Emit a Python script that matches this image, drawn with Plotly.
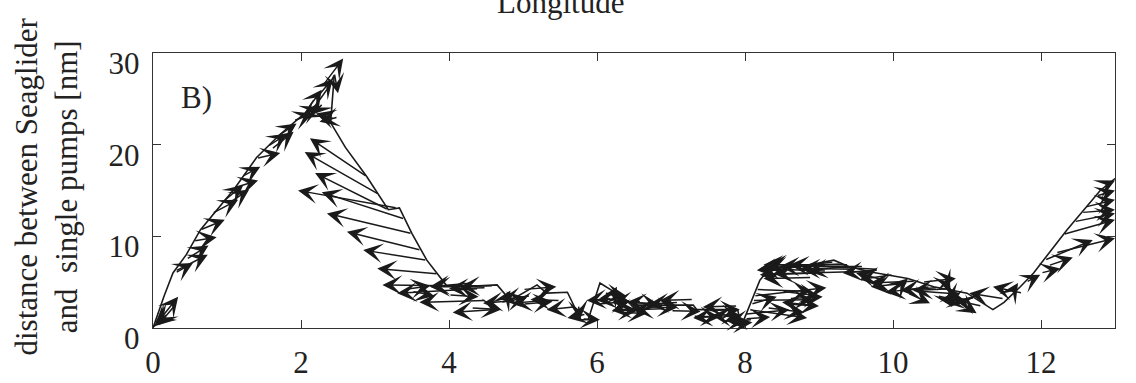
import plotly.graph_objects as go

# Track of distance between the Seaglider and single pumps along longitude
path_x = [0.0, 0.05, 0.15, 0.27, 0.45, 0.64, 0.86, 1.1, 1.4, 1.7, 1.99, 2.2, 2.35, 2.45,
          2.4, 2.6, 2.89, 3.18, 3.33, 3.5, 3.7, 3.97, 4.4, 4.65, 4.83, 5.19, 5.32, 5.6,
          5.78, 5.88, 6.04, 6.2, 6.5, 7.3, 7.35, 7.9, 7.95, 8.07, 8.2, 8.3, 8.8, 9.2,
          9.4, 9.7, 10.2, 10.55, 11.0, 11.35, 11.5, 11.72, 11.9, 12.35, 12.8, 13.0]
path_y = [0.0, 1.2, 3.5, 6.0, 8.0, 10.7, 12.9, 15.2, 18.6, 21.0, 23.0, 24.3, 26.0, 27.6,
          22.4, 19.7, 16.5, 12.9, 13.1, 10.3, 7.4, 4.6, 4.6, 4.7, 3.0, 4.7, 3.8, 3.9,
          0.9, 0.9, 4.9, 4.1, 2.5, 2.5, 2.0, 2.0, 0.2, 2.5, 5.2, 6.2, 6.8, 7.4,
          6.7, 6.1, 5.4, 4.5, 3.8, 2.0, 2.8, 4.5, 6.0, 10.7, 15.0, 16.3]

# Vector field: tail positions (arrow_x, arrow_y) and components (arrow_u, arrow_v)
arrow_x = [
    # rising limb
    0.30, 0.20, 0.00, 0.30, 0.30, 0.55, 0.64, 0.80, 0.95, 1.10, 1.20, 1.40, 1.55, 1.70,
    1.90, 2.00, 2.10, 2.20, 2.30, 2.45, 2.45, 2.50,
    0.10, 0.45, 1.00, 1.60, 2.15, 2.30,
    # falling limb
    2.89, 3.05, 3.18, 3.30, 3.40, 3.50, 3.62, 3.70, 3.85, 3.97, 4.40, 4.50, 4.60, 3.40,
    4.30, 3.50,
    # low section between 4 and 8
    4.90, 4.75, 4.30, 5.30, 4.70, 5.70, 5.85, 5.75, 5.80, 6.20, 6.20, 6.60, 6.90, 6.30,
    7.30, 6.70, 7.70, 7.90, 7.30, 7.50, 7.70, 8.10, 4.60, 5.00, 6.00, 6.90,
    4.20, 4.50, 4.00, 5.10, 5.00, 5.50, 6.10, 6.40, 6.50, 6.60, 7.00, 7.10, 7.60, 7.85,
    7.80, 6.20,
    # section between 8 and 9.5
    8.12, 8.10, 8.08, 8.05, 8.00, 8.00, 8.15, 9.20, 9.40, 9.60, 9.80, 9.00, 8.90, 9.50,
    9.10, 8.60,
    9.30, 9.10, 9.70, 8.50, 8.60, 8.30, 8.90,
    # section between 9.5 and 11.5
    9.80, 9.90, 10.30, 10.50, 10.05, 10.80, 10.20, 10.70, 10.70, 11.50, 10.90, 10.60,
    11.20, 9.40, 10.00, 10.40,
    10.20, 10.60, 10.90, 11.10, 10.40,
    # last climb
    11.75, 11.60, 11.80, 12.00, 12.10, 12.05, 12.20, 12.30, 12.45, 12.55, 12.60, 12.75,
    12.90,
]
arrow_y = [
    2.5, 1.5, 0.0, 6.0, 6.2, 9.5, 10.7, 12.5, 13.8, 15.3, 16.5, 18.5, 19.8, 21.0,
    22.6, 23.2, 24.0, 25.0, 26.5, 27.8, 22.8, 23.0,
    0.8, 7.5, 13.5, 19.5, 23.6, 24.5,
    16.5, 14.6, 12.9, 13.1, 11.9, 10.3, 8.5, 7.4, 5.9, 4.6, 4.3, 3.0, 2.0, 4.2,
    4.9, 4.0,
    3.0, 3.0, 2.2, 3.0, 2.8, 2.3, 1.5, 2.5, 1.0, 3.2, 3.5, 2.9, 2.1, 1.7,
    3.1, 2.3, 1.3, 2.4, 1.3, 1.9, 0.8, 0.9, 4.6, 4.2, 2.6, 2.6,
    4.5, 4.4, 3.6, 3.5, 2.6, 3.0, 3.8, 3.3, 2.8, 2.2, 1.9, 2.8, 1.5, 1.2,
    0.5, 1.9,
    3.5, 3.0, 2.6, 2.0, 1.5, 1.0, 4.2, 7.2, 6.9, 6.7, 6.4, 6.0, 5.5, 6.4,
    6.2, 2.6,
    7.0, 6.8, 6.2, 4.0, 3.2, 2.2, 2.5,
    6.3, 5.2, 5.1, 4.5, 4.3, 4.3, 3.8, 5.3, 3.6, 3.2, 2.8, 3.5,
    2.4, 6.8, 5.8, 5.0,
    4.9, 4.4, 3.9, 3.3, 4.0,
    3.8, 3.8, 5.0, 6.0, 6.8, 7.4, 8.2, 10.2, 11.6, 12.6, 13.2, 14.4,
    15.7,
]
arrow_u = [
    -0.23, -0.17, 0.34, 0.24, 0.44, 0.31, 0.33, 0.35, 0.27, 0.32, 0.25, 0.32, 0.26, 0.24,
    0.26, 0.26, 0.18, 0.23, 0.27, 0.05, -0.25, -0.25,
    -0.08, 0.30, 0.30, 0.30, -0.15, -0.15,
    -0.77, -1.00, -0.99, -1.34, -1.12, -1.15, -1.00, -0.86, -0.82, -0.87, -1.10, -0.90,
    -0.55, 0.35, -0.56, 0.30,
    -0.44, 0.08, 0.40, -0.44, 0.35, -0.38, -0.25, 0.02, 0.24, -0.34, 0.07, -0.40, -0.40,
    0.38, -0.45, 0.38, -0.40, -0.47, 0.36, 0.43, 0.32, -0.34, -0.45, 0.45, 0.45, -0.50,
    -0.45, -0.50, 0.40, -0.40, 0.40, -0.40, 0.30, -0.40, 0.35, -0.40, 0.40, -0.40, 0.35,
    -0.30, 0.30, 0.35,
    0.98, 0.82, 0.35, 0.79, 0.60, 0.34, 0.75, -1.04, -1.10, -1.13, -1.20, -0.80, -0.65,
    -0.75, -0.90, 0.40,
    -1.00, -0.85, -1.30, 0.50, 0.45, 0.50, -0.40,
    -0.48, -0.40, -0.61, -0.60, 0.15, -0.53, 0.30, 0.07, 0.10, -0.47, 0.23, 0.40,
    -0.35, -0.55, -0.45, 0.45,
    -0.50, -0.50, -0.20, -0.40, 0.50,
    -0.40, 0.09, 0.19, 0.26, 0.33, 0.65, 0.80, 0.70, 0.55, 0.45, 0.40, 0.25,
    0.10,
]
arrow_v = [
    -2.2, -0.9, 3.4, 1.1, 1.8, 0.4, 1.1, 1.5, 1.8, 0.8, 1.1, 0.6, 1.4, 1.3,
    0.8, 0.9, 2.0, 2.2, 2.9, -2.2, 0.6, -0.5,
    -0.6, 1.5, 1.6, 1.9, -0.7, -1.2,
    4.2, 4.6, 4.0, 1.9, 2.9, 2.2, 2.0, 1.1, 0.6, 0.1, -0.5, -0.2,
    -0.3, 0.4, -0.4, -0.5,
    -0.3, 1.1, -0.2, -0.3, 0.5, -0.3, -0.4, -1.6, -0.1, -0.2, 1.0, -0.1, -0.1, -0.1,
    -0.1, -0.1, -0.2, -0.1, -0.1, 0.1, -0.1, -0.2, -0.1, 0.3, 0.3, 0.2,
    0.0, -0.1, -0.2, -0.4, 0.3, 0.1, -0.3, -0.3, -0.3, -0.3, -0.1, -0.2, -0.2, 0.2,
    0.1, 0.0,
    0.9, 0.1, 0.8, -0.9, 0.5, 0.2, -0.2, -0.9, 0.0, 0.0, 0.5, -0.2, -0.1, 0.1,
    0.3, -0.2,
    -0.4, 0.1, -0.3, -0.5, 0.2, -0.5, 0.3,
    -0.3, 0.8, -0.2, -0.6, 1.1, -0.2, -1.1, -1.2, -1.3, 0.6, -1.2, -0.7,
    0.6, -0.6, -0.5, 0.4,
    -0.4, -0.3, -0.9, -0.5, -0.3,
    0.7, 1.1, 0.8, 0.5, 0.9, 2.2, 1.6, 1.6, 0.9, 0.3, 0.8, 0.6,
    0.4,
]
assert len(arrow_x) == len(arrow_y) == len(arrow_u) == len(arrow_v)

x_ticks = [0, 2, 4, 6, 8, 10, 12]
y_ticks = [0, 10, 20, 30]

INK = "#1a1a1a"
FONT = "Liberation Serif, Times New Roman, Times, serif"

fig = go.Figure()
fig.add_trace(go.Scatter(x=path_x, y=path_y, mode="lines",
                         line=dict(color=INK, width=1.6), hoverinfo="skip",
                         showlegend=False))

annotations = []
for x0, y0, u, v in zip(arrow_x, arrow_y, arrow_u, arrow_v):
    annotations.append(dict(
        x=x0 + u, y=y0 + v, ax=x0, ay=y0,
        xref="x", yref="y", axref="x", ayref="y",
        text="", showarrow=True, arrowhead=3, arrowsize=2.2,
        arrowwidth=1.5, arrowcolor=INK, standoff=0, startstandoff=0,
    ))

# panel label
annotations.append(dict(x=0.35, y=25.1, xref="x", yref="y", text="B)",
                        showarrow=False, xanchor="left", yanchor="middle",
                        font=dict(family=FONT, size=31, color="#222")))
# x-axis label of the panel above, partly visible at the top edge
annotations.append(dict(x=0.424, y=1, xref="paper", yref="paper", text="Longitude",
                        showarrow=False, xanchor="center", yanchor="bottom", yshift=31,
                        font=dict(family=FONT, size=31, color="#222")))
# y-axis title
annotations.append(dict(x=0, y=0.5, xref="paper", yref="paper",
                        text="distance between Seaglider<br>and\u00a0 single pumps [nm]",
                        showarrow=False, textangle=-90, xanchor="center", yanchor="middle",
                        xshift=-107, yshift=4,
                        font=dict(family=FONT, size=31, color="#222")))

axis_common = dict(showline=True, mirror="ticks", linecolor="#333", linewidth=1.4,
                   ticks="inside", ticklen=8, tickwidth=1.4, tickcolor="#333",
                   showgrid=False, zeroline=False, automargin=False,
                   tickfont=dict(family=FONT, size=31, color="#222"))

fig.update_layout(
    width=1136, height=383,
    margin=dict(l=153, r=21, t=53, b=55),
    paper_bgcolor="white", plot_bgcolor="white",
    font=dict(family=FONT),
    xaxis=dict(range=[0, 13], tickvals=x_ticks, ticklabelstandoff=7, **axis_common),
    yaxis=dict(range=[0, 30], tickvals=y_ticks, ticklabelstandoff=6,
               ticklabelshift=10, **axis_common),
    annotations=annotations,
    showlegend=False,
)

fig.write_html("out.html")
